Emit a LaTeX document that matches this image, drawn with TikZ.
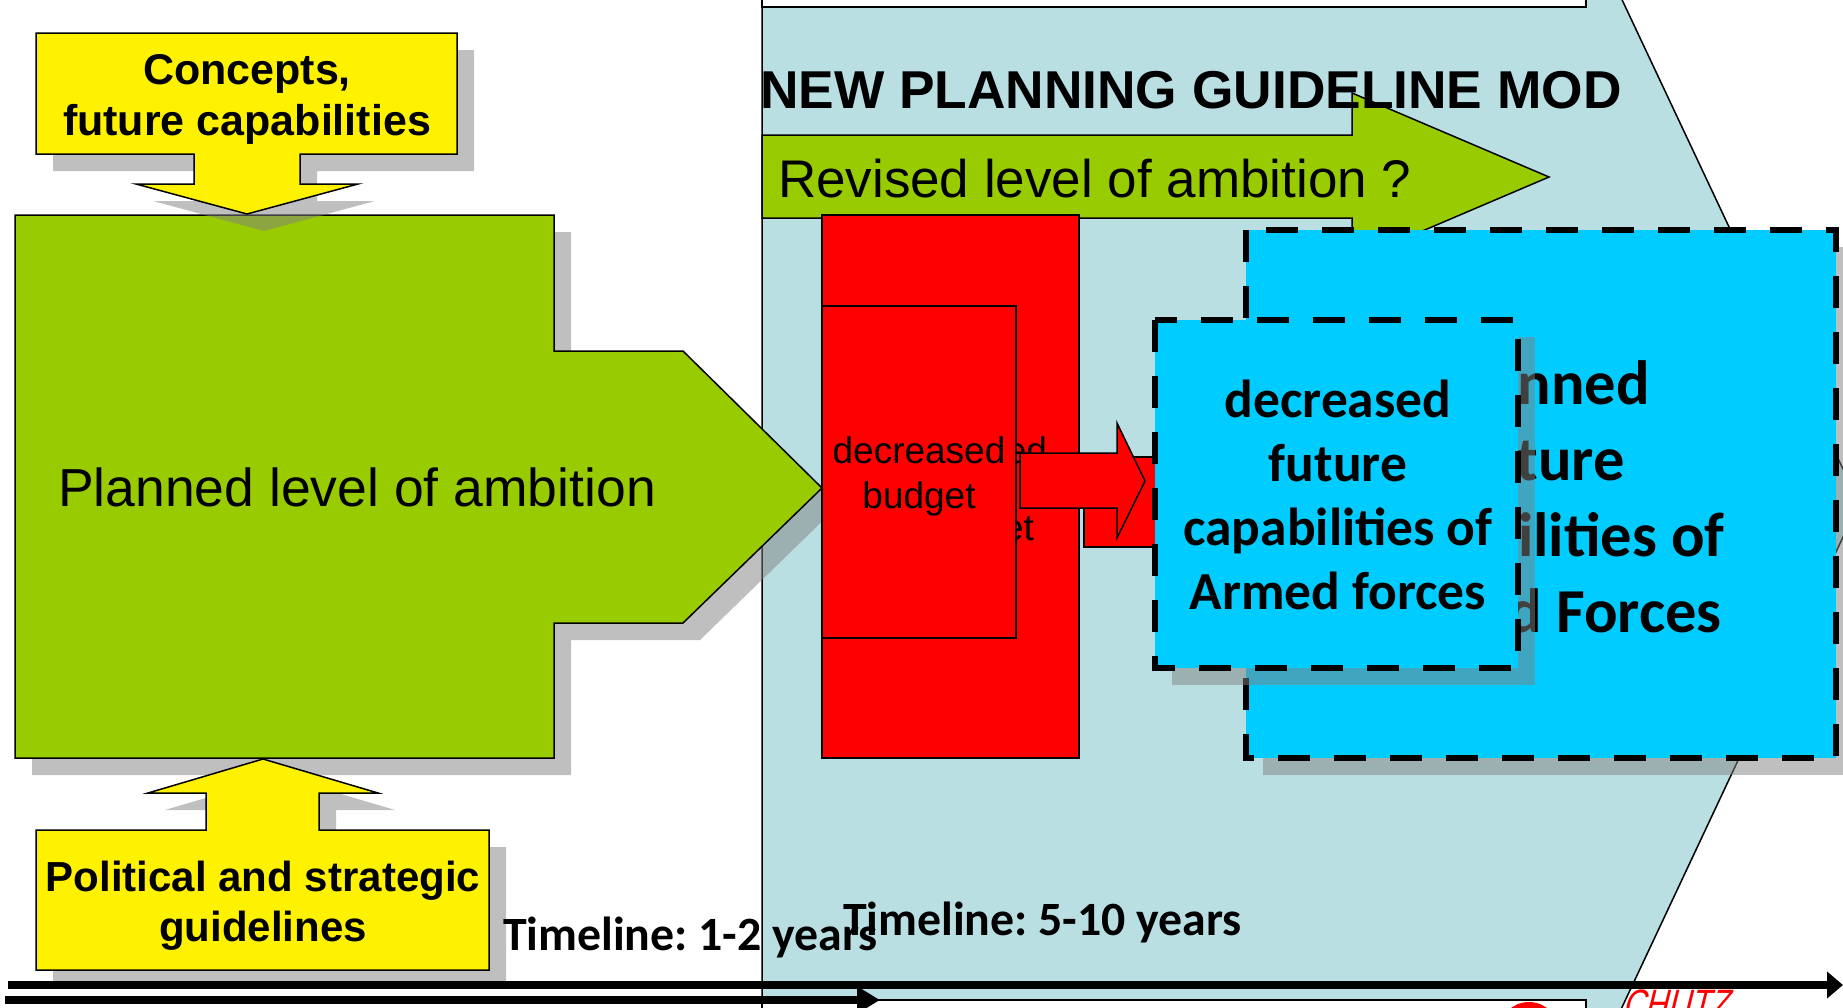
\documentclass[tikz,border=0pt]{standalone}
\usepackage{fontspec}
\setmainfont{Liberation Sans}
\newfontfamily\calfont{Carlito}
\newfontfamily\chutzfont[FakeSlant=0.25,FakeStretch=0.77]{Liberation Sans}
\newcommand\fsz[2]{\fontsize{#1}{#2}\selectfont}
\usetikzlibrary{arrows.meta}
\definecolor{ltblue}{RGB}{186,223,227}
\definecolor{agreen}{RGB}{153,204,0}
\definecolor{acyan}{RGB}{0,204,255}
\begin{document}
\frenchspacing
\begin{tikzpicture}[x=1pt,y=-1pt,
  edge/.style={draw=black,line width=1.5pt,line join=miter},
  shad/.style={fill={rgb,255:red,128;green,128;blue,128},fill opacity=0.5,draw=none},
  dashbox/.style={draw=black,line width=6.5pt,dash pattern=on 32pt off 24pt},
  txt/.style={inner sep=0pt,outer sep=0pt},
  timeline/.style={txt,anchor=base west,font=\calfont\bfseries\fsz{47.8}{56}},
  ]
\useasboundingbox (0,0) rectangle (1843,1007);
\clip (0,0) rectangle (1843,1007);

% light blue background arrow
\draw[edge,fill=ltblue] (762,-30) -- (1608,-30) -- (1859,503) -- (1608,1037) -- (762,1037) -- cycle;
\draw[edge,fill=white] (762,-30) rectangle (1586,7);
\draw[edge,fill=white] (762,1000) rectangle (1586,1040);
\fill[red] (1529,1032) circle (30);
\node[txt,anchor=base west,text=red,font=\chutzfont\fsz{41}{41}] (chutz) at (1622,1018) {CHUTZ};

% green planned level arrow
\begin{scope}[shift={(17,17)}]
\fill[shad] (15,215) -- (554,215) -- (554,351) -- (683,351) -- (822,488) -- (683,623) -- (554,623) -- (554,758) -- (15,758) -- cycle;
\end{scope}
\draw[edge,fill=agreen] (15,215) -- (554,215) -- (554,351) -- (683,351) -- (822,488) -- (683,623) -- (554,623) -- (554,758) -- (15,758) -- cycle;
\node[txt,anchor=base,font=\fsz{53.5}{60}] (planned) at (357,506) {Planned level of ambition};

% top yellow arrow
\begin{scope}[shift={(17,17)}]
\fill[shad] (36,33) -- (457,33) -- (457,154) -- (300,154) -- (300,184) -- (358,184) -- (247,214) -- (136,184) -- (194,184) -- (194,154) -- (36,154) -- cycle;
\end{scope}
\draw[edge,fill=yellow] (36,33) -- (457,33) -- (457,154) -- (300,154) -- (300,184) -- (358,184) -- (247,214) -- (136,184) -- (194,184) -- (194,154) -- (36,154) -- cycle;
\node[txt,align=center,font=\bfseries\fsz{43}{51}] (concepts) at (247,99.5) {Concepts,\\future capabilities};

% bottom yellow arrow
\begin{scope}[shift={(17,17)}]
\fill[shad] (36,970) -- (489,970) -- (489,830) -- (319,830) -- (319,793) -- (378,793) -- (263,759) -- (148,793) -- (206,793) -- (206,830) -- (36,830) -- cycle;
\end{scope}
\draw[edge,fill=yellow] (36,970) -- (489,970) -- (489,830) -- (319,830) -- (319,793) -- (378,793) -- (263,759) -- (148,793) -- (206,793) -- (206,830) -- (36,830) -- cycle;
\node[txt,align=center,font=\bfseries\fsz{42}{50}] (political) at (263,906) {Political and strategic\\guidelines};

% revised arrow
\draw[edge,fill=agreen] (762,135) -- (1352,135) -- (1352,93) -- (1549,177) -- (1352,261) -- (1352,218) -- (762,218) -- cycle;
\node[txt,anchor=base west,font=\fsz{53}{60}] (revised) at (778,197) {Revised level of ambition ?};
\node[txt,anchor=base west,font=\bfseries\fsz{53.3}{60}] (title) at (760,108) {NEW PLANNING GUIDELINE MOD};

% red budget boxes
\draw[edge,fill=red] (822,215) rectangle (1079,758);
\node[txt,anchor=east,align=right,font=\fsz{37}{77}] (budgetouter) at (1047,492) {decreased\\budget\rule{13pt}{0pt}};
\draw[edge,fill=red] (822,306) rectangle (1016,638);
\node[txt,align=center,font=\fsz{37}{45}] (budget) at (919,476) {decreased\\budget};
\draw[edge,fill=red] (1084,457) rectangle (1175,547);
\draw[edge,fill=red] (1020,453) -- (1117,453) -- (1117,423) -- (1145,481) -- (1117,538) -- (1117,508) -- (1020,508) -- cycle;

% big cyan box
\fill[shad] (1263,247) rectangle (1853,775);
\fill[acyan] (1246,230) rectangle (1836,758);
\draw[dashbox] (1246,230) rectangle (1836,758);
\node[txt,align=center,font=\calfont\bfseries\fsz{62.5}{76}] (plannedcap) at (1544,497) {Planned\\future\\capabilities of\\Armed Forces};

% small cyan box
\fill[shad] (1172,337) rectangle (1535,685);
\fill[acyan] (1155,320) rectangle (1518,668);
\draw[dashbox] (1155,320) rectangle (1518,668);
\node[txt,align=center,font=\calfont\bfseries\fsz{53.5}{64}] (decreasedcap) at (1338,495) {decreased\\future\\capabilities of\\Armed forces};

% timelines
\coordinate (tlAstart) at (8,985);
\coordinate (tlAend) at (1843,985);
\coordinate (tlBstart) at (5,1000);
\coordinate (tlBend) at (880,1000);
\draw[line width=8pt,-{Triangle[length=16pt,width=26pt]}] (tlAstart) -- (tlAend);
\draw[line width=8pt,-{Triangle[length=23pt,width=26pt]}] (tlBstart) -- (tlBend);
\node[timeline] (tl1) at (503,950) {Timeline: 1-2 years};
\node[timeline] (tl2) at (843,935) {Timeline: 5-10 years};
\end{tikzpicture}
\end{document}
